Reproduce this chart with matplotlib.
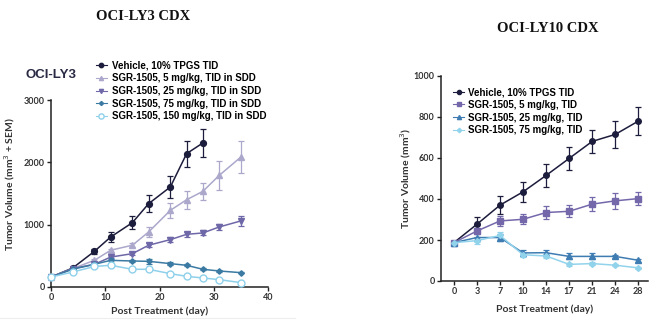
import matplotlib
matplotlib.use("Agg")
import matplotlib.pyplot as plt
import numpy as np

# ---------------- data: OCI-LY3 CDX ----------------
ly3_labels = ["Vehicle, 10% TPGS TID",
              "SGR-1505, 5 mg/kg, TID in SDD",
              "SGR-1505, 25 mg/kg, TID in SDD",
              "SGR-1505, 75 mg/kg, TID in SDD",
              "SGR-1505, 150 mg/kg, TID in SDD"]
ly3_days_vehicle = [0, 4, 8, 11, 15, 18, 22, 25, 28]
ly3_days = [0, 4, 8, 11, 15, 18, 22, 25, 28, 31, 35]
ly3_vehicle = [160, 305, 572, 802, 1032, 1337, 1605, 2140, 2311]
ly3_vehicle_err = [10, 20, 40, 80, 100, 135, 175, 210, 220]
ly3_5 = [160, 295, 428, 590, 670, 883, 1230, 1400, 1535, 1790, 2085]
ly3_5_err = [10, 20, 25, 25, 30, 80, 125, 145, 140, 235, 250]
ly3_25 = [160, 295, 364, 480, 535, 670, 760, 845, 867, 963, 1060]
ly3_25_err = [10, 15, 20, 25, 20, 30, 35, 45, 40, 55, 85]
ly3_75 = [160, 285, 364, 428, 417, 412, 375, 348, 284, 257, 230]
ly3_75_err = [10, 15, 20, 35, 20, 35, 20, 15, 15, 15, 10]
ly3_150 = [160, 240, 330, 348, 284, 284, 214, 171, 145, 118, 70]
ly3_150_err = [10, 10, 15, 15, 15, 15, 10, 10, 10, 10, 10]

# ---------------- data: OCI-LY10 CDX ----------------
ly10_labels = ["Vehicle, 10% TPGS TID",
               "SGR-1505, 5 mg/kg, TID",
               "SGR-1505, 25 mg/kg, TID",
               "SGR-1505, 75 mg/kg, TID"]
ly10_days = ["0", "3", "7", "10", "14", "17", "21", "24", "28"]
ly10_vehicle = [187, 277, 370, 435, 515, 598, 681, 715, 780]
ly10_vehicle_err = [8, 33, 45, 48, 55, 55, 55, 65, 68]
ly10_5 = [187, 244, 293, 301, 334, 340, 375, 391, 402]
ly10_5_err = [8, 30, 25, 25, 33, 30, 35, 40, 33]
ly10_25 = [187, 212, 212, 137, 138, 120, 120, 120, 101]
ly10_25_err = [8, 15, 15, 12, 15, 15, 15, 8, 6]
ly10_75 = [187, 197, 222, 128, 122, 81, 85, 77, 64]
ly10_75_err = [8, 15, 15, 10, 10, 6, 6, 5, 5]

tick_font = "Lato"
leg_font = "Liberation Sans"

fig = plt.figure(figsize=(6.64, 3.32), dpi=100)

def style_axes(ax):
    for s in ["top", "right"]:
        ax.spines[s].set_visible(False)
    for s in ["left", "bottom"]:
        ax.spines[s].set_linewidth(1.1)
        ax.spines[s].set_color("#222222")
    ax.tick_params(axis="both", labelsize=6.5, width=1.0, length=3, color="#222222",
                   pad=1.5)
    for lab in ax.get_xticklabels() + ax.get_yticklabels():
        lab.set_fontfamily(tick_font)
        lab.set_fontweight("bold")
        lab.set_color("#333333")

# ---------------- left panel ----------------
ax1 = fig.add_axes([51/664, 1-287/332, 217/664, 187/332])
c_veh = "#1c1c3c"
series1 = [
    (ly3_days_vehicle, ly3_vehicle, ly3_vehicle_err, c_veh, "o", 4.2, c_veh),
    (ly3_days, ly3_5, ly3_5_err, "#aba8cc", "^", 4.0, "#aba8cc"),
    (ly3_days, ly3_25, ly3_25_err, "#6f68a8", "v", 4.0, "#6f68a8"),
    (ly3_days, ly3_75, ly3_75_err, "#3b7aa3", "D", 2.8, "#3b7aa3"),
    (ly3_days, ly3_150, ly3_150_err, "#8fd0ea", "o", 5.0, "white"),
]
handles1 = []
for (x, y, e, c, m, ms, fc), lab in zip(series1, ly3_labels):
    ax1.errorbar(x, y, yerr=e, color=c, ecolor=c, elinewidth=0.9, capsize=2.5,
                 capthick=0.9, lw=1.1, clip_on=False, zorder=3, fmt="none")
    h, = ax1.plot(x, y, color=c, marker=m, ms=ms, mfc=fc, mec=c, mew=1.0,
                  lw=1.1, clip_on=False, zorder=4, label=lab)
    handles1.append(h)
ax1.set_xlim(0, 40)
ax1.set_ylim(0, 3000)
ax1.set_xticks([0, 10, 20, 30, 40])
ax1.set_yticks([0, 1000, 2000, 3000])
style_axes(ax1)
ax1.set_xlabel("Post Treatment (day)", fontfamily=tick_font, fontweight="bold",
               fontsize=7.5, color="#333333", labelpad=3)
ax1.set_ylabel("Tumor Volume (mm$^3$ + SEM)", fontfamily=tick_font, fontweight="bold",
               fontsize=7.5, color="#333333", labelpad=3)
ax1.yaxis.set_label_coords(-0.155, 0.55)
leg1 = ax1.legend(handles=handles1, loc="upper left", bbox_to_anchor=(0.19, 1.232),
                  frameon=False, prop={"family": leg_font, "weight": "bold", "size": 7},
                  handlelength=1.1, handletextpad=0.5, labelspacing=0.28,
                  borderaxespad=0, markerscale=0.75)
for h in leg1.legend_handles:
    h.set_linewidth(0.8)

fig.text(143/664, 1-17/332, "OCI-LY3 CDX", ha="center", va="center",
         fontfamily="Liberation Serif", fontweight="bold", fontsize=10.5, color="#111111")
fig.text(25/664, 1-75/332, "OCI-LY3", ha="left", va="center",
         fontfamily=leg_font, fontweight="bold", fontsize=9.5, color="#2a2a44")

# faint separator
fig.add_artist(plt.Line2D([0, 295/664], [1-318/332, 1-318/332], color="#eeeeee", lw=0.8))

# ---------------- right panel ----------------
ax2 = fig.add_axes([441/664, 1-281/332, 207/664, 205/332])
xpos = np.arange(len(ly10_days))
series2 = [
    (ly10_vehicle, ly10_vehicle_err, c_veh, "o", 4.0),
    (ly10_5, ly10_5_err, "#7568aa", "s", 4.0),
    (ly10_25, ly10_25_err, "#3e7cb2", "^", 4.0),
    (ly10_75, ly10_75_err, "#92d3ec", "D", 3.0),
]
handles2 = []
for (y, e, c, m, ms), lab in zip(series2, ly10_labels):
    ax2.errorbar(xpos, y, yerr=e, color=c, ecolor=c, elinewidth=0.9, capsize=2.5,
                 capthick=0.9, lw=1.1, clip_on=False, zorder=3, fmt="none")
    h, = ax2.plot(xpos, y, color=c, marker=m, ms=ms, mfc=c, mec=c, lw=1.1,
                  clip_on=False, zorder=4, label=lab)
    handles2.append(h)
ax2.set_xlim(-0.56, 8.42)
ax2.set_ylim(0, 1000)
ax2.set_xticks(xpos)
ax2.set_xticklabels(ly10_days)
ax2.set_yticks([0, 200, 400, 600, 800, 1000])
style_axes(ax2)
ax2.set_xlabel("Post Treatment (day)", fontfamily=tick_font, fontweight="bold",
               fontsize=7.5, color="#333333", labelpad=6)
ax2.set_ylabel("Tumor Volume (mm$^3$)", fontfamily=tick_font, fontweight="bold",
               fontsize=7.5, color="#333333", labelpad=3)
ax2.yaxis.set_label_coords(-0.135, 0.5)
leg2 = ax2.legend(handles=handles2, loc="upper left", bbox_to_anchor=(0.04, 0.965),
                  frameon=False, prop={"family": leg_font, "weight": "bold", "size": 7},
                  handlelength=1.1, handletextpad=0.4, labelspacing=0.28,
                  borderaxespad=0, markerscale=0.75)
for h in leg2.legend_handles:
    h.set_linewidth(0.8)

fig.text(548/664, 1-29/332, "OCI-LY10 CDX", ha="center", va="center",
         fontfamily="Liberation Serif", fontweight="bold", fontsize=10.5, color="#111111")

fig.savefig("out.png", dpi=100, facecolor="white")
